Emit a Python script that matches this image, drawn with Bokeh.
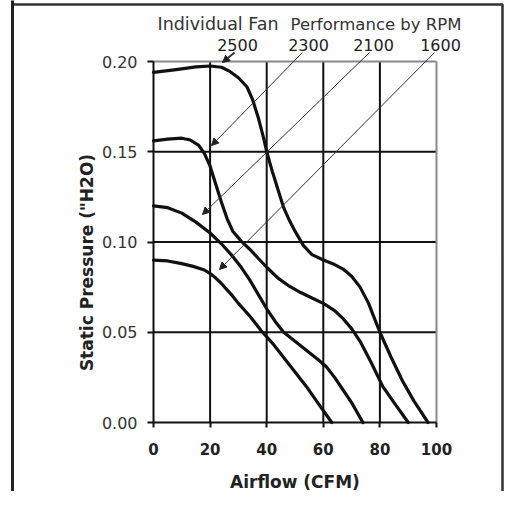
import math
from bokeh.plotting import figure
from bokeh.models import Range1d, FixedTicker, NumeralTickFormatter, Label, Arrow, NormalHead
from bokeh.embed import file_html
from bokeh.resources import INLINE

# ---------------- data ----------------
rpm_labels = ["2500", "2300", "2100", "1600"]

x_2500 = [0, 8, 15, 20, 24, 27, 30, 33, 35, 37, 39, 40, 42, 44, 46, 48, 50, 53, 56, 60, 64, 67, 70, 73, 76, 78, 80, 84, 88, 92, 97]
y_2500 = [0.194, 0.1955, 0.197, 0.1975, 0.1968, 0.1945, 0.191, 0.186, 0.179, 0.169, 0.157, 0.150, 0.139,
          0.129, 0.119, 0.112, 0.106, 0.098, 0.093, 0.090, 0.0875, 0.085, 0.081, 0.075, 0.066, 0.058, 0.050,
          0.036, 0.023, 0.012, 0.0]

x_2300 = [0, 5, 10, 13, 16, 18, 20, 22, 24, 26, 28, 31, 34, 37, 40, 44, 48, 52, 56, 60, 64, 67, 70, 73, 77, 81, 85, 90]
y_2300 = [0.156, 0.157, 0.1575, 0.1565, 0.1535, 0.149, 0.142, 0.132, 0.122, 0.113, 0.106, 0.1005, 0.096,
          0.091, 0.086, 0.080, 0.0755, 0.072, 0.069, 0.066, 0.062, 0.0575, 0.052, 0.045, 0.033, 0.020, 0.011, 0.0]

x_2100 = [0, 5, 10, 15, 20, 24, 28, 31, 34, 37, 40, 43, 46, 50, 54, 58, 61, 64, 67, 70, 74]
y_2100 = [0.120, 0.119, 0.116, 0.111, 0.105, 0.099, 0.092, 0.086, 0.079, 0.071, 0.063, 0.056, 0.050, 0.045,
          0.040, 0.035, 0.031, 0.025, 0.018, 0.011, 0.0]

x_1600 = [0, 5, 10, 14, 18, 20, 22, 24, 26, 28, 30, 34, 38, 42, 46, 50, 54, 58, 63]
y_1600 = [0.090, 0.0895, 0.088, 0.0865, 0.0845, 0.0825, 0.080, 0.077, 0.0735, 0.070, 0.066, 0.059, 0.051,
          0.044, 0.036, 0.028, 0.020, 0.011, 0.0]

x_ticks = [0, 20, 40, 60, 80, 100]
y_ticks = [0.00, 0.05, 0.10, 0.15, 0.20]
x_grid = [20, 40, 60, 80]
y_grid = [0.05, 0.10, 0.15]

title_left = "Individual Fan"
title_right = "Performance by RPM"
x_label = "Airflow (CFM)"
y_label = 'Static Pressure ("H2O)'

# ---------------- layout ----------------
FONT = "DejaVu Sans"
W, H = 506, 491
OX, OY = 1, 1                 # page position of the canvas origin
FL, FR, FT, FB = 154 - OX, 437 - OX, 62 - OY, 423 - OY   # data box in canvas px
X0, X1, Y0, Y1 = 0, 100, 0.0, 0.20


def sx(px):  # page pixel -> data x
    return X0 + (px - OX - FL) * (X1 - X0) / (FR - FL)


def sy(py):  # page pixel -> data y
    return Y0 + (FB - (py - OY)) * (Y1 - Y0) / (FB - FT)


p = figure(width=W, height=H, output_backend="svg", toolbar_location=None,
           x_range=Range1d(sx(OX), sx(OX + W)), y_range=Range1d(sy(OY + H), sy(OY)),
           min_border=0)
p.background_fill_color = "white"
p.border_fill_color = "white"
p.outline_line_color = None
p.grid.visible = False

# outer frame of the figure box (drawn as an open-bottom box, right edge kept inside the canvas)
p.quad(left=[sx(13)], right=[sx(503)], top=[sy(5)], bottom=[sy(650)],
       fill_color=None, line_color="#333333", line_width=2.5)
p.segment(x0=[sx(13)], y0=[sy(0)], x1=[sx(13)], y1=[sy(600)], line_color="#222222", line_width=3)

# grid lines and plot border, limited to the data box
p.segment(x0=x_grid, y0=[Y0] * len(x_grid), x1=x_grid, y1=[Y1] * len(x_grid),
          line_color="#111111", line_width=2)
p.segment(x0=[X0] * len(y_grid), y0=y_grid, x1=[X1] * len(y_grid), y1=y_grid,
          line_color="#111111", line_width=2)
p.segment(x0=[X0, X1], y0=[Y1, Y0], x1=[X1, X1], y1=[Y1, Y1], line_color="#8a8a8a", line_width=2)

# axes at the data origin
p.xaxis.fixed_location = Y0
p.yaxis.fixed_location = X0
p.xaxis.bounds = (X0, X1)
p.yaxis.bounds = (Y0, Y1)
p.xaxis.ticker = FixedTicker(ticks=x_ticks)
p.yaxis.ticker = FixedTicker(ticks=y_ticks)
p.yaxis.formatter = NumeralTickFormatter(format="0.00")
for ax in (p.xaxis, p.yaxis):
    ax.axis_line_color = "#111111"
    ax.axis_line_width = 2
    ax.major_tick_line_color = "#111111"
    ax.major_tick_line_width = 2
    ax.major_tick_in = 0
    ax.minor_tick_line_color = None
    ax.major_label_text_font = FONT
p.xaxis.major_tick_out = 5
p.yaxis.major_tick_out = 6
p.xaxis.major_label_text_font_size = "15px"
p.xaxis.major_label_text_font_style = "bold"
p.xaxis.major_label_text_color = "#222222"
p.xaxis.major_label_standoff = 15
p.yaxis.major_label_text_font_size = "16px"
p.yaxis.major_label_text_color = "#333333"
p.yaxis.major_label_standoff = 10

p.xaxis.axis_label = x_label
p.xaxis.axis_label_text_font = FONT
p.xaxis.axis_label_text_font_size = "17px"
p.xaxis.axis_label_text_font_style = "bold"
p.xaxis.axis_label_text_color = "#222222"
p.xaxis.axis_label_standoff = 14

# curves
for xs, ys in ((x_2500, y_2500), (x_2300, y_2300), (x_2100, y_2100), (x_1600, y_1600)):
    p.line(xs, ys, line_color="#111111", line_width=3.2, line_join="round", line_cap="round")

# y axis label (sits lower than the data box centre, as in the reference)
p.add_layout(Label(x=sx(87), y=sy(263), text=y_label, angle=math.pi / 2,
                   text_align="center", text_baseline="middle", text_font=FONT,
                   text_font_size="17px", text_font_style="bold", text_color="#222222"))

# title (two sizes)
p.add_layout(Label(x=sx(158), y=sy(24.5), text=title_left, text_align="left",
                   text_baseline="alphabetic", text_font=FONT, text_font_size="17.5px",
                   text_color="#333333"))
p.add_layout(Label(x=sx(462), y=sy(24.5), text=title_right, text_align="right",
                   text_baseline="alphabetic", text_font=FONT, text_font_size="16.5px",
                   text_color="#333333"))

# rpm labels
rpm_cx = [238, 309, 374, 441]
for t, cx in zip(rpm_labels, rpm_cx):
    p.add_layout(Label(x=sx(cx), y=sy(45.5), text=t, text_align="center",
                       text_baseline="alphabetic", text_font=FONT, text_font_size="16px",
                       text_color="#222222"))

# leader lines from labels to curves
leaders = [((235, 53), (223, 63), 2.0), ((303, 53), (212, 146), 1.0),
           ((370, 53), (203, 215), 1.0), ((435, 53), (220, 270), 1.0)]
for (a, b, w) in leaders:
    p.add_layout(Arrow(x_start=sx(a[0]), y_start=sy(a[1]), x_end=sx(b[0]), y_end=sy(b[1]),
                       line_color="#333333", line_width=w,
                       end=NormalHead(size=7, fill_color="#222222", line_color="#222222", line_width=1)))

open("out.html", "w").write(file_html(p, INLINE))
